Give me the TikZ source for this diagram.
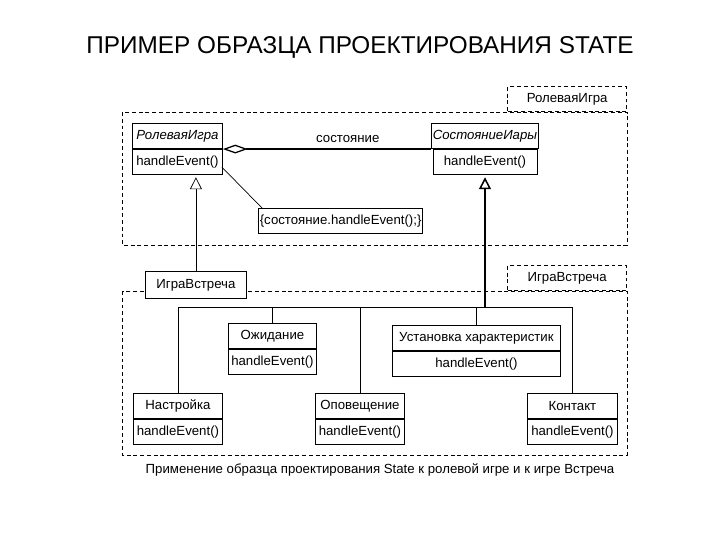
\documentclass[tikz,border=0pt]{standalone}
\usepackage{fontspec}
\setmainfont{Liberation Sans}
\usetikzlibrary{arrows.meta, positioning, calc}

\begin{document}
\begin{tikzpicture}[
    x=0.025cm, y=-0.025cm,
    font=\fontsize{9.4}{11}\selectfont,
    cname/.style = {rectangle, draw, fill=white, line width=0.6pt, minimum width=#1, minimum height=0.63cm, inner sep=1pt, anchor=north west},
    cmeth/.style = {rectangle, draw, fill=white, line width=0.6pt, minimum width=#1, minimum height=0.63cm, inner sep=1pt},
    notebox/.style = {rectangle, draw, fill=white, line width=0.6pt, minimum width=4.05cm, minimum height=0.625cm, inner sep=1pt, anchor=north west},
    pkg/.style = {draw, line width=0.5pt, dash pattern=on 2.8pt off 2pt},
    pkgtab/.style = {rectangle, draw, line width=0.5pt, dash pattern=on 2.8pt off 2pt, minimum width=2.975cm, minimum height=0.625cm, anchor=south east},
    inherit/.style = {draw, line width=0.5pt, -{Triangle[open, length=3mm, width=3mm]}, shorten >=1.5pt},
    line/.style = {draw, line width=0.5pt}
]
    \useasboundingbox (0,0) rectangle (720,540);

    % Title and caption
    \node (title) at (360,47) {\fontsize{17.3}{20}\selectfont ПРИМЕР ОБРАЗЦА ПРОЕКТИРОВАНИЯ STATE};
    \node (caption) at (380,470) {Применение образца проектирования State к ролевой игре и к игре Встреча};

    % Packages
    \draw [pkg] (122,112) rectangle (627,245);
    \node (tabtop) [pkgtab] at (627,112) {РолеваяИгра};
    \draw [pkg] (122,291) rectangle (627,455);
    \node (tabbot) [pkgtab] at (627,291) {ИграВстреча};

    % Classes - upper package
    \node (ri) [cname=2.25cm] at (132,123) {\textit{РолеваяИгра}};
    \node (rim) [cmeth=2.25cm, below=0pt of ri] {handleEvent()};
    \node (si) [cname=2.6cm] at (431,123) {\textit{СостояниеИары}};
    \node (sim) [cmeth=2.6cm, below=0pt of si] {handleEvent()};
    \node (note) [notebox] at (258,208) {\{состояние.handleEvent();\}};

    % Subclass of the game
    \node (igra) [cname=2.525cm, minimum height=0.675cm] at (145,271) {ИграВстреча};

    % States - lower package
    \node (ozh) [cname=2.2cm] at (228,323) {Ожидание};
    \node (ozhm) [cmeth=2.2cm, below=0pt of ozh] {handleEvent()};
    \node (ust) [cname=4.2cm] at (392,325) {Установка характеристик};
    \node (ustm) [cmeth=4.2cm, below=0pt of ust] {handleEvent()};
    \node (nastr) [cname=2.225cm] at (133,393) {Настройка};
    \node (nastrm) [cmeth=2.225cm, below=0pt of nastr] {handleEvent()};
    \node (opov) [cname=2.225cm] at (315,393) {Оповещение};
    \node (opovm) [cmeth=2.225cm, below=0pt of opov] {handleEvent()};
    \node (kont) [cname=2.25cm] at (527,393) {Контакт};
    \node (kontm) [cmeth=2.25cm, below=0pt of kont] {handleEvent()};

    % Aggregation and note
    \path [draw, line width=0.9pt, {Diamond[open, length=6.2mm, width=2.2mm]}-] (ri.south east) -- node [pos=0.6, above=1pt] {состояние} (si.south west);
    \path [line] ($(rim.south east)+(-1,-8)$) -- ($(note.north west)+(4,0)$);

    % Inheritance
    \coordinate (bus) at (0,307);
    \path [inherit] (igra.north) -- (igra.north |- rim.south);
    \path [inherit, line width=1.1pt] (sim.south |- bus) -- (sim.south);
    \path [line] (nastr.north) -- (nastr.north |- bus) -- (kont.north |- bus) -- (kont.north);
    \path [line] (ozh.north |- bus) -- (ozh.north);
    \path [line] (opov.north |- bus) -- (opov.north);
    \path [line] (ust.north |- bus) -- (ust.north);

\end{tikzpicture}
\end{document}
